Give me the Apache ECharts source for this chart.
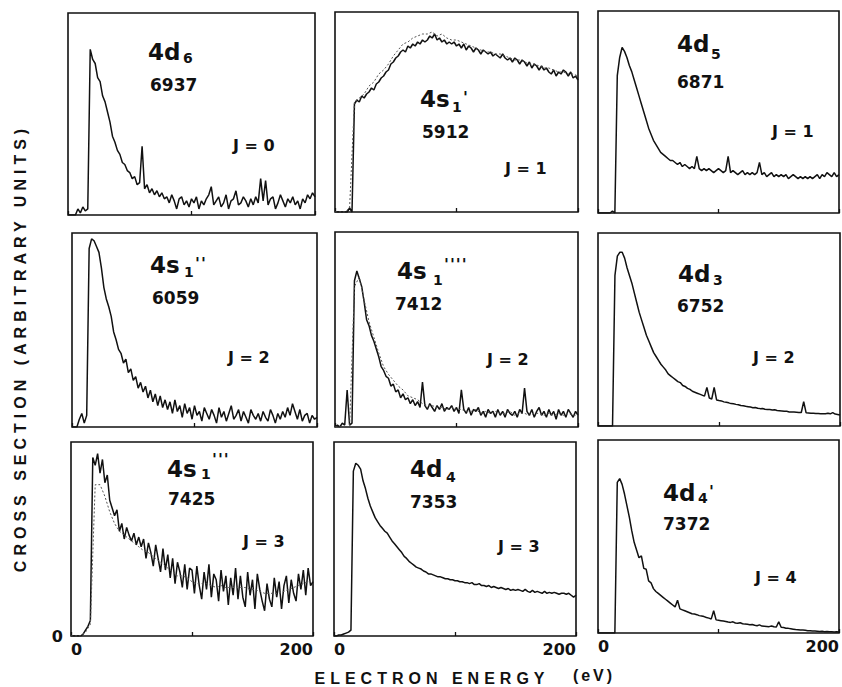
<!DOCTYPE html>
<html>
<head>
<meta charset="utf-8">
<script src="https://cdn.jsdelivr.net/npm/echarts@6/dist/echarts.min.js"></script>
<style>
  html, body { margin: 0; padding: 0; background: #fff; }
  #chart { width: 842px; height: 687px; }
  /* scanned-figure look: wide letter spacing on the axis titles and primes */
  #chart text[style*="spacedA"] { letter-spacing: 5px; }
  #chart text[style*="spacedB"] { letter-spacing: 3px; }
  #chart text[style*="spacedC"] { letter-spacing: 1px; }
</style>
</head>
<body>
<div id="chart"></div>
<script>
// energy grid: main traces sampled every 2 eV, dotted repeat runs every 4 eV
var energyStep = 2;
var dotStep = 4;

// cross sections, % of panel height, E = 0..200 eV
var d6 = [
  0, 0, 0, 0, 3, 1, 4, 2, 3, 82,
  77, 75, 68, 66, 59, 56, 51, 46, 39, 36,
  32, 30, 26, 25, 22, 21, 18, 19, 15, 16,
  34, 13, 15, 11, 13, 10, 12, 9, 11, 8,
  9, 6, 10, 7, 3, 8, 9, 5, 7, 4,
  8, 6, 9, 3, 7, 5, 8, 10, 14, 5,
  7, 9, 4, 6, 10, 3, 7, 8, 12, 5,
  6, 9, 7, 4, 8, 5, 9, 6, 18, 7,
  17, 5, 8, 9, 3, 6, 10, 7, 4, 8,
  6, 9, 5, 7, 3, 8, 6, 10, 8, 11,
  9
];
var s1p = [
  0, 0, 0, 0, 0, 0, 2, 0, 54, 56,
  55, 58, 57, 59, 60, 62, 61, 64, 65, 67,
  68, 70, 71, 74, 75, 77, 78, 80, 81, 80,
  83, 82, 84, 83, 85, 84, 86, 85, 86, 88,
  87, 89, 86, 87, 85, 86, 84, 85, 84, 85,
  83, 84, 82, 84, 81, 83, 82, 80, 82, 81,
  79, 81, 80, 79, 80, 78, 79, 78, 77, 79,
  77, 76, 77, 75, 77, 76, 74, 76, 75, 73,
  75, 72, 74, 73, 71, 73, 71, 72, 70, 69,
  71, 68, 70, 69, 71, 70, 68, 70, 67, 68,
  66
];
var s1pDot = [
  0, 0, 0, 2, 55, 57, 59, 63, 65, 69,
  71, 74, 78, 81, 84, 85, 87, 88, 89, 89,
  90, 88, 89, 87, 86, 86, 85, 84, 83, 82,
  81, 80, 80, 79, 79, 78, 77, 76, 76, 75,
  74, 74, 73, 72, 72, 71, 70, 70, 69, 69,
  68
];
var d5 = [
  0, 0, 0, 0, 0, 0, 1, 0, 68, 77,
  82, 80, 77, 73, 70, 66, 62, 58, 54, 50,
  46, 42, 39, 36, 34, 32, 30, 29, 28, 27,
  26, 26, 25, 24, 25, 23, 24, 23, 22, 23,
  22, 28, 22, 21, 22, 21, 22, 21, 20, 21,
  22, 21, 20, 21, 28, 20, 21, 20, 19, 20,
  21, 19, 20, 19, 20, 19, 20, 25, 19, 20,
  18, 19, 20, 18, 19, 18, 19, 18, 19, 17,
  18, 19, 18, 17, 18, 17, 18, 17, 18, 17,
  18, 19, 17, 19, 18, 20, 19, 18, 20, 18,
  19
];
var s1pp = [
  0, 0, 0, 4, 7, 2, 6, 92, 97, 96,
  93, 90, 82, 72, 66, 62, 57, 49, 45, 40,
  38, 33, 35, 28, 30, 24, 26, 20, 23, 18,
  21, 15, 19, 13, 17, 11, 16, 10, 14, 9,
  13, 7, 14, 8, 11, 5, 12, 7, 10, 4,
  11, 6, 8, 3, 10, 7, 4, 9, 6, 2,
  10, 5, 8, 3, 7, 11, 4, 6, 9, 3,
  8, 5, 2, 9, 6, 4, 7, 3, 8, 5,
  3, 9, 6, 2, 7, 4, 8, 5, 10, 6,
  12, 8, 4, 9, 3, 6, 7, 2, 6, 4,
  5
];
var s1pppp = [
  0, 1, 0, 2, 1, 19, 1, 2, 75, 80,
  76, 72, 64, 55, 52, 47, 44, 40, 36, 31,
  29, 26, 25, 21, 22, 18, 19, 15, 17, 14,
  15, 12, 14, 11, 13, 10, 23, 11, 9, 12,
  10, 8, 11, 9, 12, 8, 10, 9, 11, 8,
  10, 7, 19, 9, 7, 10, 6, 9, 8, 10,
  6, 8, 5, 9, 7, 8, 5, 9, 6, 8,
  5, 9, 7, 6, 8, 5, 9, 7, 20, 8,
  6, 9, 5, 8, 10, 6, 8, 5, 9, 6,
  8, 4, 9, 6, 8, 5, 9, 7, 5, 8,
  6
];
var s1ppppDot = [
  0, 0, 0, 0, 72, 77, 65, 54, 46, 38,
  31, 27, 24, 21, 19, 16, 15, 14, 12, 11,
  11, 10, 10, 9, 10, 9, 9, 8, 8, 9,
  7, 8, 7, 8, 7, 7, 8, 6, 7, 7,
  6, 7, 7, 6, 7, 6, 7, 6, 7, 6,
  6
];
var d3 = [
  0, 0, 0, 0, 0, 0, 0, 78, 88, 90,
  90, 87, 82, 78, 74, 69, 64, 59, 55, 51,
  47, 44, 41, 38, 36, 34, 32, 30.5, 29, 27,
  26, 25, 24, 23, 22.5, 21, 20.5, 19.5, 19, 18,
  17.5, 17, 16.5, 16, 15.5, 20, 14.5, 14, 20, 13.5,
  13.2, 13, 12.5, 12.3, 12, 11.6, 11.5, 11.2, 11, 10.6,
  10.5, 10.2, 10, 9.8, 9.5, 9.6, 9.2, 9, 9.1, 8.7,
  8.6, 8.5, 8.3, 8.4, 8, 7.9, 7.8, 7.6, 7.6, 7.3,
  7.3, 7.2, 7.1, 7, 7, 12.6, 6.8, 6.7, 6.6, 6.6,
  6.5, 6.5, 6.4, 6.4, 6.3, 6.6, 6.3, 6.9, 6.2, 6,
  5.7
];
var s1ppp = [
  0, 0, 0, 0, 0, 1, 3, 5, 8, 92,
  88, 94, 84, 91, 79, 83, 70, 66, 62, 65,
  54, 58, 50, 56, 52, 49, 53, 47, 51, 46,
  50, 40, 48, 43, 36, 47, 40, 33, 45, 34,
  42, 30, 40, 27, 38, 33, 25, 37, 24, 35,
  34, 22, 36, 26, 19, 33, 24, 37, 20, 32,
  29, 18, 34, 23, 31, 16, 30, 21, 35, 19,
  31, 20, 15, 33, 21, 29, 14, 32, 24, 18,
  13, 27, 19, 15, 30, 20, 28, 14, 26, 31,
  17, 29, 22, 18, 32, 24, 34, 21, 35, 26,
  28
];
var s1pppDot = [
  0, 0, 0, 2, 6, 78, 78, 72, 64, 58,
  54, 52, 50, 48, 46, 44, 43, 41, 39, 37,
  35, 33, 31, 31, 30, 28, 27, 27, 27, 26,
  25, 26, 25, 25, 25, 25, 25, 24, 24, 23,
  22, 22, 22, 22, 23, 24, 25, 26, 27, 28,
  28
];
var d4 = [
  0, 0, 0.5, 0.5, 1, 1.5, 2, 3, 85, 89,
  88, 86, 80, 76, 71, 67, 64, 61, 59, 57,
  55.5, 54, 53, 51, 49, 47.5, 46, 44.5, 43, 41,
  40, 38.5, 37.5, 36.5, 35.5, 35, 34.5, 33.5, 33, 32,
  32, 31.5, 31, 30.5, 30.5, 30, 29.5, 29.5, 29, 29,
  28.5, 28.5, 28, 28, 27.5, 27.5, 27, 27.5, 26.5, 26.5,
  27, 26, 26, 25.5, 26, 25, 25.5, 25, 24.5, 25,
  24.5, 24, 24.5, 23.5, 24, 23.5, 24, 23.5, 23, 24,
  23, 22.5, 23.5, 22.5, 23, 22.5, 22, 23, 22, 22.5,
  22, 22.5, 22, 21.5, 22, 22, 21.5, 22, 21, 20,
  21
];
var d4p = [
  0, 0, 0, 0, 0, 0, 0, 0, 78, 80,
  77, 72, 66, 60, 53, 47, 43, 39, 40, 33.5,
  33, 27, 26, 23, 21.5, 20.5, 19.5, 18.5, 17.5, 16.5,
  15.5, 14.5, 13.5, 17, 12.5, 12, 11.5, 11, 10.5, 10,
  9.8, 9.5, 9, 8.8, 8.5, 8, 7.7, 7.3, 11.5, 6.8,
  6.6, 6.4, 6.2, 6, 5.7, 5.5, 5.8, 5.2, 5, 5.3,
  4.8, 4.6, 4.5, 4.3, 4.4, 4, 3.8, 4.2, 3.6, 3.5,
  3.4, 3.3, 3.6, 3.2, 3.1, 5.8, 3, 2.8, 2.5, 2.4,
  2.2, 2, 1.8, 1.7, 1.6, 1.5, 1.4, 1.2, 1.2, 1,
  1, 0.9, 0.8, 0.9, 0.7, 0.8, 0.6, 0.7, 0.5, 0.6,
  0.5
];

// panels in reading order
var traces = [d6, s1p, d5, s1pp, s1pppp, d3, s1ppp, d4, d4p];
var dotTraces = [null, s1pDot, null, null, s1ppppDot, null, s1pppDot, null, null];
var levelMain = ['4d', '4s', '4d', '4s', '4s', '4d', '4s', '4d', '4d'];
var levelSub = ['6', '1', '5', '1', '1', '3', '1', '4', '4'];
var levelPrime = ['', "'", '', "''", "''''", '', "'''", '', "'"];
var levelCode = ['6937', '5912', '6871', '6059', '7412', '6752', '7425', '7353', '7372'];
var levelJ = ['J = 0', 'J = 1', 'J = 1', 'J = 2', 'J = 2', 'J = 2', 'J = 3', 'J = 3', 'J = 4'];
var xTicks = [0, 100, 200];

// panel boxes [left, top, width, height] in px
var boxes = [
  [68, 13, 247, 202], [335, 12, 243, 200], [598, 11, 241, 202],
  [72, 233, 245, 194], [335, 232, 243, 195], [598, 233, 242, 193],
  [71, 442, 242, 194], [334, 442, 242, 194], [598, 440, 242, 193]
];
// label anchors: main [x, y], sub/prime [x, ySub, yPrime], code [x, y], J [x, y]
var labelPos = [
  [[148, 51.5], [183, 58, null], [150, 85], [233, 145]],
  [[420, 98.5], [452, 107, 93.5], [422, 131.5], [505, 168.5]],
  [[677, 44], [711, 53.5, null], [677, 81.5], [772, 131]],
  [[150, 264.5], [184, 272, 259], [152, 297.5], [228, 357.5]],
  [[397, 270.5], [433, 280, 260], [395, 304], [487, 359]],
  [[678, 273.5], [713, 280, null], [677, 306], [753, 357.5]],
  [[167, 469], [201, 474, 455], [168, 499], [243, 541]],
  [[410, 468.5], [446, 477, null], [410, 501.5], [498, 546]],
  [[663, 492.5], [698, 498, 487.5], [663, 524], [755, 577.5]]
];

var INK = '#111';
var FONT = 'DejaVu Sans';

function toPairs(ys, step) {
  return ys.map(function (v, i) { return [i * step, v]; });
}

var grids = [], xAxes = [], yAxes = [], series = [], graphics = [];

function addText(pos, text, size, family) {
  graphics.push({
    type: 'text', x: pos[0], y: pos[1], silent: true,
    style: {
      text: text, fill: INK, font: 'bold ' + size + 'px ' + (family || FONT),
      textAlign: 'left', textVerticalAlign: 'middle'
    }
  });
}

traces.forEach(function (ys, i) {
  var b = boxes[i];
  var bottomRow = i >= 6;
  grids.push({
    left: b[0], top: b[1], width: b[2], height: b[3],
    show: true, borderColor: INK, borderWidth: 1.6, backgroundColor: 'transparent'
  });
  xAxes.push({
    type: 'value', gridIndex: i, min: xTicks[0], max: xTicks[2], interval: xTicks[1] - xTicks[0],
    axisLine: { show: false },
    splitLine: { show: false },
    axisTick: { show: true, inside: true, length: 4, lineStyle: { color: INK, width: 1.3 } },
    axisLabel: {
      show: bottomRow, margin: 5, color: INK,
      fontFamily: FONT, fontWeight: 'bold', fontSize: 16,
      alignMinLabel: 'left', alignMaxLabel: 'right',
      formatter: function (v) { return v === xTicks[1] ? '' : String(v); }
    }
  });
  yAxes.push({
    type: 'value', gridIndex: i, min: 0, max: 100, interval: 100,
    axisLine: { show: false }, axisTick: { show: false }, splitLine: { show: false },
    axisLabel: {
      show: i === 6, margin: 8, color: INK, padding: [0, 0, 8, 0],
      fontFamily: FONT, fontWeight: 'bold', fontSize: 16,
      formatter: function (v) { return v === 0 ? '0' : ''; }
    }
  });
  series.push({
    type: 'line', xAxisIndex: i, yAxisIndex: i,
    data: toPairs(ys, energyStep),
    symbol: 'none', silent: true,
    lineStyle: { color: INK, width: 1.5 }
  });
  if (dotTraces[i]) {
    series.push({
      type: 'line', xAxisIndex: i, yAxisIndex: i,
      data: toPairs(dotTraces[i], dotStep),
      symbol: 'none', silent: true, z: 3,
      lineStyle: { color: '#555', width: 1, type: [2, 2] }
    });
  }

  var p = labelPos[i];
  addText(p[0], levelMain[i], 23);
  addText([p[1][0], p[1][1]], levelSub[i], 14);
  // primes set just right of the subscript so the two boxes stay apart
  if (levelPrime[i]) addText([p[1][0] + 11, p[1][2] + 4], levelPrime[i], 16, FONT + ', spacedC');
  addText(p[2], levelCode[i], 17);
  addText(p[3], levelJ[i], 16);
});

// axis titles
graphics.push({
  type: 'text', x: 20, y: 348, rotation: Math.PI / 2, silent: true,
  style: {
    text: 'CROSS SECTION (ARBITRARY UNITS)', fill: INK,
    font: 'bold 16px Liberation Sans, spacedA',
    textAlign: 'center', textVerticalAlign: 'middle'
  }
});
graphics.push({
  type: 'text', x: 432, y: 678, silent: true,
  style: {
    text: 'ELECTRON ENERGY', fill: INK,
    font: 'bold 16px Liberation Sans, spacedA',
    textAlign: 'center', textVerticalAlign: 'middle'
  }
});
graphics.push({
  type: 'text', x: 594, y: 675, silent: true,
  style: {
    text: '(eV)', fill: INK,
    font: 'bold 16px Liberation Sans, spacedB',
    textAlign: 'center', textVerticalAlign: 'middle'
  }
});

var chart = echarts.init(document.getElementById('chart'), null, { renderer: 'svg' });
chart.setOption({
  animation: false,
  backgroundColor: '#fff',
  grid: grids,
  xAxis: xAxes,
  yAxis: yAxes,
  series: series,
  graphic: graphics
});
window.addEventListener('resize', function () { chart.resize(); });
</script>
</body>
</html>
